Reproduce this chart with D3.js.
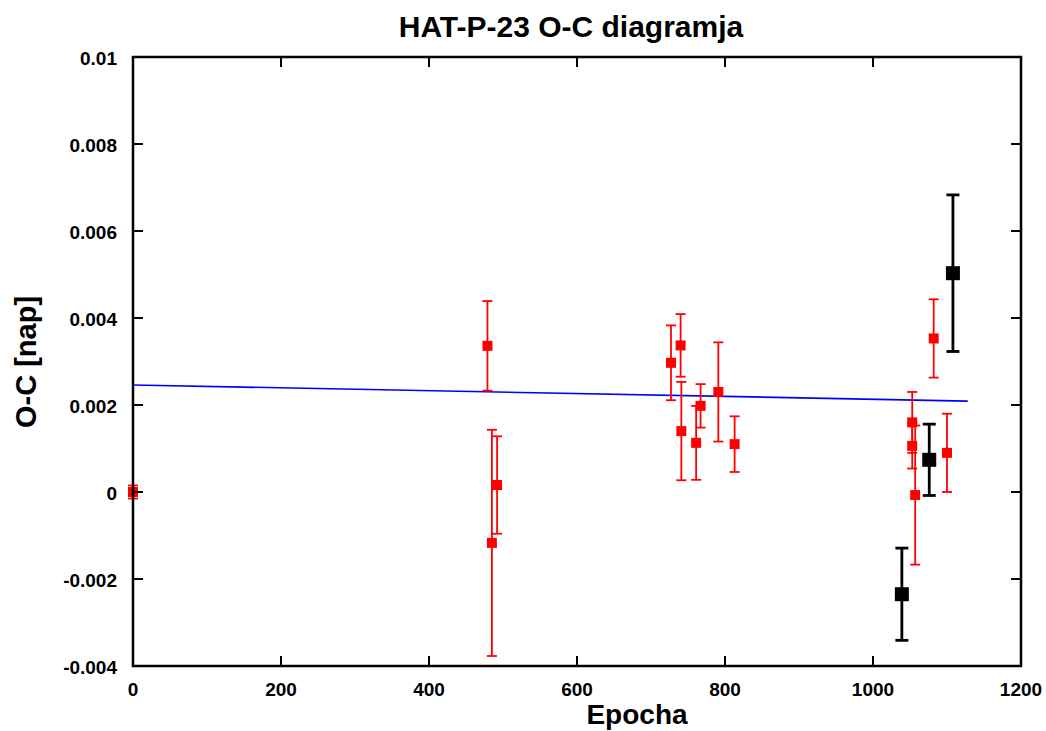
<!DOCTYPE html>
<html>
<head>
<meta charset="utf-8">
<script src="https://cdn.jsdelivr.net/npm/d3@7"></script>
<style>
  html, body { margin: 0; padding: 0; background: #fff; }
  svg { display: block; }
  text { font-family: "Liberation Sans", Arial, sans-serif; font-weight: bold; fill: #000; }
</style>
</head>
<body>
<svg id="chart" width="1046" height="731"></svg>
<script>
// ---- Data ----
const redEpochs = [0, 479, 485, 492, 727, 740, 741, 761, 767, 791, 813, 1053, 1053, 1057, 1082, 1100];
const redValues = [0, 0.00336, -0.00117, 0.00016, 0.00297, 0.00337, 0.0014, 0.00113, 0.00198, 0.0023, 0.0011, 0.0016, 0.00106, -0.00007, 0.00353, 0.0009];
const redErrors = [0.00015, 0.00103, 0.0026, 0.00112, 0.00086, 0.00072, 0.00113, 0.00085, 0.0005, 0.00114, 0.00064, 0.0007, 0.00052, 0.0016, 0.0009, 0.0009];

const blackEpochs = [1039, 1076, 1108];
const blackValues = [-0.00235, 0.00074, 0.00503];
const blackErrors = [0.00106, 0.00082, 0.0018];

const fitEpochs = [0, 1128];
const fitValues = [0.00246, 0.00209];

const xTicks = [0, 200, 400, 600, 800, 1000, 1200];
const yTicks = [-0.004, -0.002, 0, 0.002, 0.004, 0.006, 0.008, 0.01];
const yTickLabels = ["-0.004", "-0.002", "0", "0.002", "0.004", "0.006", "0.008", "0.01"];

const titleText = "HAT-P-23 O-C diagramja";
const xLabel = "Epocha";
const yLabel = "O-C [nap]";

// ---- Layout ----
const L = 133, R = 1021, T = 57, B = 666;
const svg = d3.select("#chart");
const x = d3.scaleLinear().domain([0, 1200]).range([L, R]);
const y = d3.scaleLinear().domain([-0.004, 0.01]).range([B, T]);

svg.append("rect").attr("width", 1046).attr("height", 731).attr("fill", "#fff");

// Fit line
const fitData = fitEpochs.map((e, i) => [e, fitValues[i]]);
svg.append("path")
  .datum(fitData)
  .attr("fill", "none")
  .attr("stroke", "#0000ff")
  .attr("stroke-width", 1.6)
  .attr("d", d3.line().x(d => x(d[0])).y(d => y(d[1])));

// Error bars + points
function drawSeries(epochs, values, errors, color, size, cap, sw) {
  const data = epochs.map((e, i) => ({e, v: values[i], err: errors[i]}));
  const g = svg.append("g");
  const eb = g.selectAll("g.eb").data(data).join("g").attr("class", "eb");
  eb.append("line")
    .attr("x1", d => x(d.e)).attr("x2", d => x(d.e))
    .attr("y1", d => y(d.v + d.err)).attr("y2", d => y(d.v - d.err))
    .attr("stroke", color).attr("stroke-width", sw);
  eb.append("line")
    .attr("x1", d => x(d.e) - cap / 2).attr("x2", d => x(d.e) + cap / 2)
    .attr("y1", d => y(d.v + d.err)).attr("y2", d => y(d.v + d.err))
    .attr("stroke", color).attr("stroke-width", sw);
  eb.append("line")
    .attr("x1", d => x(d.e) - cap / 2).attr("x2", d => x(d.e) + cap / 2)
    .attr("y1", d => y(d.v - d.err)).attr("y2", d => y(d.v - d.err))
    .attr("stroke", color).attr("stroke-width", sw);
  g.selectAll("rect.pt").data(data).join("rect").attr("class", "pt")
    .attr("x", d => x(d.e) - size / 2).attr("y", d => y(d.v) - size / 2)
    .attr("width", size).attr("height", size)
    .attr("fill", color);
}
drawSeries(redEpochs, redValues, redErrors, "#ff0000", 10, 10, 1.8);
drawSeries(blackEpochs, blackValues, blackErrors, "#000000", 14, 13, 2.8);

// Frame
svg.append("rect")
  .attr("x", L).attr("y", T).attr("width", R - L).attr("height", B - T)
  .attr("fill", "none").attr("stroke", "#000").attr("stroke-width", 2.5);

// Ticks (inward, all four sides)
const tickLen = 10;
const tg = svg.append("g").attr("stroke", "#000").attr("stroke-width", 2);
xTicks.forEach(t => {
  tg.append("line").attr("x1", x(t)).attr("x2", x(t)).attr("y1", B).attr("y2", B - tickLen);
  tg.append("line").attr("x1", x(t)).attr("x2", x(t)).attr("y1", T).attr("y2", T + tickLen);
});
yTicks.forEach(t => {
  tg.append("line").attr("x1", L).attr("x2", L + tickLen).attr("y1", y(t)).attr("y2", y(t));
  tg.append("line").attr("x1", R).attr("x2", R - tickLen).attr("y1", y(t)).attr("y2", y(t));
});

// Tick labels
svg.selectAll("text.xt").data(xTicks).join("text").attr("class", "xt")
  .attr("x", d => x(d)).attr("y", 696)
  .attr("text-anchor", "middle").attr("font-size", 19)
  .text(d => d);
svg.selectAll("text.yt").data(yTicks).join("text").attr("class", "yt")
  .attr("x", 117).attr("y", d => y(d) + 8)
  .attr("text-anchor", "end").attr("font-size", 19)
  .text((d, i) => yTickLabels[i]);

// Title and axis labels
svg.append("text").attr("x", 571).attr("y", 37).attr("text-anchor", "middle")
  .attr("font-size", 30).text(titleText);
svg.append("text").attr("x", 637).attr("y", 724).attr("text-anchor", "middle")
  .attr("font-size", 28).text(xLabel);
svg.append("text").attr("transform", "translate(36,362) rotate(-90)")
  .attr("text-anchor", "middle").attr("font-size", 29).text(yLabel);
</script>
</body>
</html>
